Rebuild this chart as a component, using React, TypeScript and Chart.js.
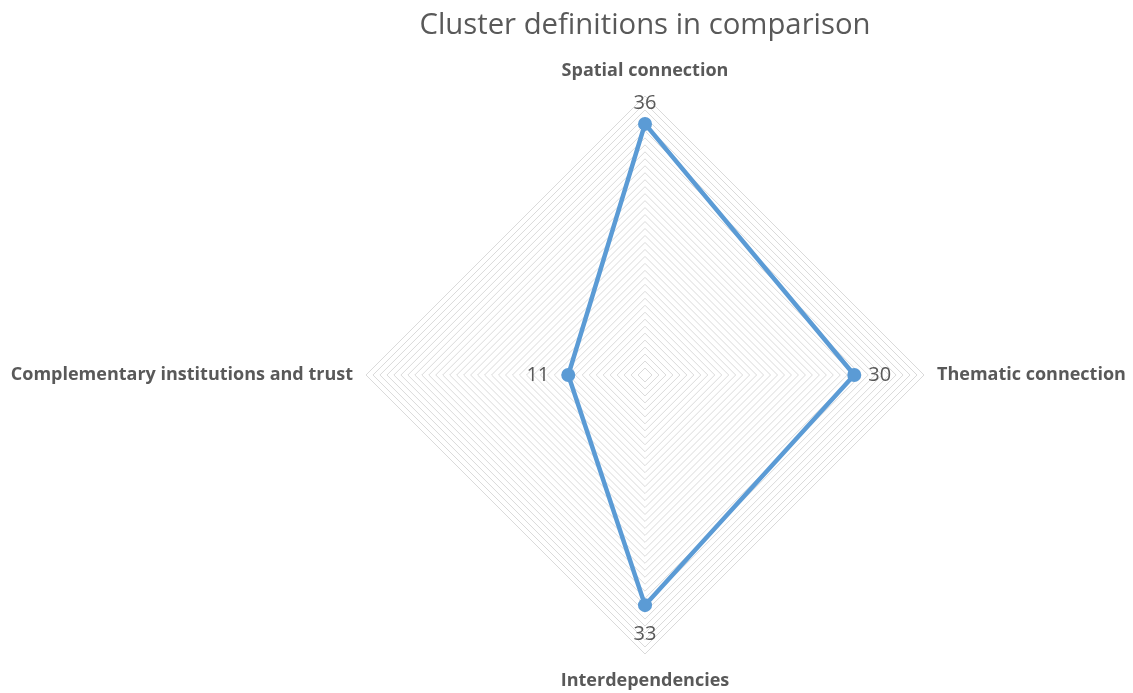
import React, { useEffect, useRef } from "react";
import { Chart, registerables } from "chart.js";

Chart.register(...registerables);

const categories = [
  "Spatial connection",
  "Thematic connection",
  "Interdependencies",
  "Complementary institutions and trust",
];
const values = [36, 30, 33, 11];
const seriesName = "Cluster definitions";
const titleText = "Cluster definitions in comparison";
const scaleMin = 0;
const scaleMax = 40;
const scaleStep = 1;

const TEXT = "#595959";
const LINE = "#5b9bd5";

const labelPlugin = {
  id: "customLabels",
  afterDraw(chart: any) {
    const scale = chart.scales.r;
    const ctx = chart.ctx as CanvasRenderingContext2D;
    const R = scale.drawingArea;
    ctx.save();
    ctx.fillStyle = TEXT;
    ctx.textBaseline = "middle";
    // category (point) labels
    ctx.font = "bold 18px 'Open Sans'";
    categories.forEach((c, i) => {
      const a = scale.getIndexAngle(i) - Math.PI / 2;
      const cos = Math.cos(a);
      const sin = Math.sin(a);
      let dist = 13;
      if (Math.abs(cos) < 0.1) {
        ctx.textAlign = "center";
        dist = sin < 0 ? 25 : 27;
      } else {
        ctx.textAlign = cos > 0 ? "left" : "right";
      }
      const p = scale.getPointPosition(i, R + dist);
      ctx.fillText(c, p.x, p.y);
    });
    // data labels
    ctx.font = "20px 'Open Sans'";
    const meta = chart.getDatasetMeta(0);
    meta.data.forEach((el: any, i: number) => {
      const a = scale.getIndexAngle(i) - Math.PI / 2;
      const cos = Math.cos(a);
      const sin = Math.sin(a);
      let x = el.x;
      let y = el.y;
      if (Math.abs(cos) < 0.1) {
        ctx.textAlign = "center";
        y += sin < 0 ? -21 : 29;
      } else if (cos > 0) {
        ctx.textAlign = "left";
        x += 14;
      } else {
        ctx.textAlign = "right";
        x -= 19;
      }
      ctx.fillText(String(values[i]), x, y);
    });
    ctx.restore();
  },
};

export default function App() {
  const ref = useRef<HTMLCanvasElement | null>(null);
  useEffect(() => {
    if (!ref.current) return;
    const chart = new Chart(ref.current, {
      type: "radar",
      data: {
        labels: categories,
        datasets: [
          {
            label: seriesName,
            data: values,
            borderColor: LINE,
            backgroundColor: LINE,
            borderWidth: 4.5,
            fill: false,
            pointRadius: 7,
            pointBackgroundColor: LINE,
            pointBorderColor: LINE,
            pointBorderWidth: 0,
            tension: 0,
          },
        ],
      },
      options: {
        animation: false,
        responsive: true,
        maintainAspectRatio: false,
        layout: { padding: { left: 357, right: 200, top: 0, bottom: 38 } },
        plugins: {
          legend: { display: false },
          tooltip: { enabled: false },
          title: {
            display: true,
            text: titleText,
            color: TEXT,
            font: { family: "'Open Sans'", size: 29.3, weight: "normal", lineHeight: 1.2 },
            padding: { top: 0, bottom: 52 },
          },
        },
        scales: {
          r: {
            min: scaleMin,
            max: scaleMax,
            ticks: { stepSize: scaleStep, display: false },
            grid: { color: "#dadada", lineWidth: 1 },
            angleLines: { display: false },
            pointLabels: { display: false },
          },
        },
      },
      plugins: [labelPlugin],
    });
    return () => chart.destroy();
  }, []);
  return (
    <div style={{ position: "absolute", left: 8, top: 8, width: 1117, height: 685 }}>
      <canvas ref={ref} />
    </div>
  );
}
